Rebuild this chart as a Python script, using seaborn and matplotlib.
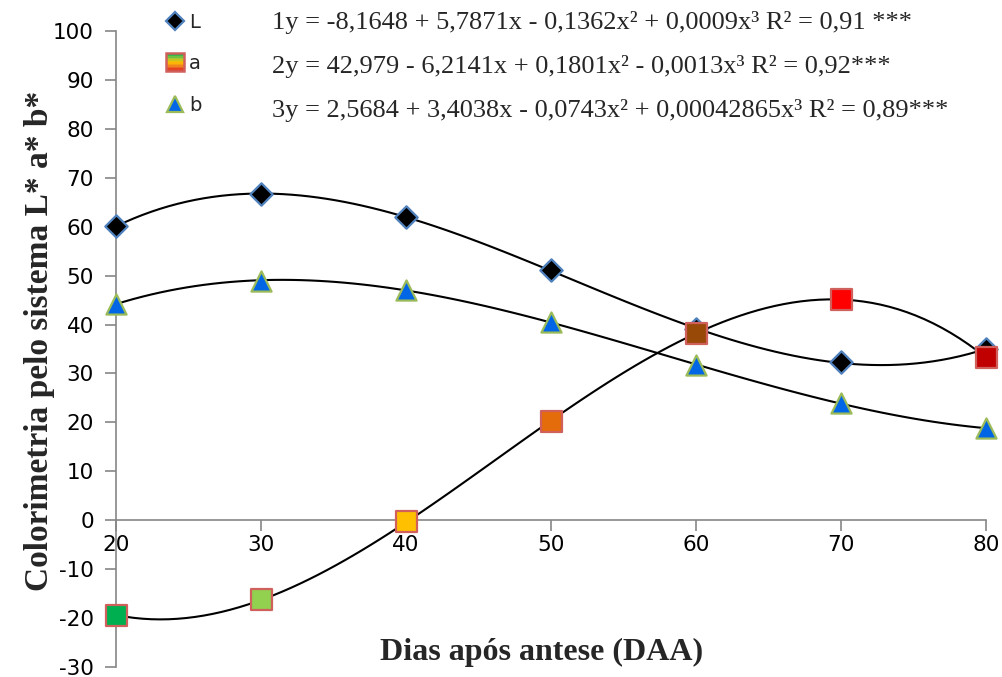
import numpy as np
import pandas as pd
import matplotlib
matplotlib.use("Agg")
import matplotlib.pyplot as plt
import seaborn as sns
from matplotlib.lines import Line2D
from matplotlib.patches import Rectangle
from matplotlib.legend_handler import HandlerBase
from matplotlib.colors import LinearSegmentedColormap

# ---- data ----
days = [20, 30, 40, 50, 60, 70, 80]
L_vals = [60.1, 66.7, 62.0, 51.1, 39.0, 32.3, 35.0]
a_vals = [-19.4, -16.3, -0.3, 20.2, 38.2, 45.2, 33.2]
b_vals = [44.2, 49.0, 47.0, 40.5, 31.7, 23.9, 18.8]
a_colors = ["#00B050", "#92D050", "#FFC000", "#E46C0A", "#984807", "#FF0000", "#C00000"]
series_labels = ["L", "a", "b"]
equations = [
    "1y = -8,1648 + 5,7871x - 0,1362x² + 0,0009x³ R² = 0,91 ***",
    "2y = 42,979 - 6,2141x + 0,1801x² - 0,0013x³ R² = 0,92***",
    "3y = 2,5684 + 3,4038x - 0,0743x² + 0,00042865x³ R² = 0,89***",
]
y_ticks = list(range(-30, 101, 10))
x_ticks = [20, 30, 40, 50, 60, 70, 80]
xlabel = "Dias após antese (DAA)"
ylabel = "Colorimetria pelo sistema L* a* b*"

df = pd.DataFrame({"DAA": days, "L": L_vals, "a": a_vals, "b": b_vals})

sns.set_style("white")
plt.rcParams["font.family"] = ["DejaVu Sans"]
plt.rcParams["axes.unicode_minus"] = False

fig = plt.figure(figsize=(10.03, 6.77), dpi=100)
ax = fig.add_axes([0.1157, 0.0148, 0.8674, 0.9394])

# trend lines (cubic regressions)
for col in ["L", "a", "b"]:
    sns.regplot(data=df, x="DAA", y=col, order=3, ci=None, scatter=False, ax=ax,
                line_kws=dict(color="black", lw=1.5, zorder=2))

# markers
sns.scatterplot(data=df, x="DAA", y="L", marker="D", s=130, color="black",
                edgecolor="#4F81BD", linewidth=1.6, ax=ax, zorder=3, clip_on=False)
sns.scatterplot(data=df, x="DAA", y="a", hue="DAA", palette=a_colors, marker="s", s=230,
                edgecolor="#D0605C", linewidth=1.6, ax=ax, zorder=3, legend=False, clip_on=False)
sns.scatterplot(data=df, x="DAA", y="b", marker="^", s=210, color="#0066E6",
                edgecolor="#9BBB59", linewidth=1.6, ax=ax, zorder=3, clip_on=False)

ax.set_xlim(20, 80)
ax.set_ylim(-30, 100)
ax.set_xticks(x_ticks)
ax.set_yticks(y_ticks)
ax.spines["top"].set_visible(False)
ax.spines["right"].set_visible(False)
ax.spines["bottom"].set_position(("data", 0))
for s in ["left", "bottom"]:
    ax.spines[s].set_color("#868686")
    ax.spines[s].set_linewidth(1.2)
ax.tick_params(axis="both", direction="out", length=8, width=1.2, color="#868686",
               left=True, bottom=True, labelsize=15.5, labelcolor="black")
ax.tick_params(axis="y", pad=8)
ax.tick_params(axis="x", pad=3)
ax.set_xlabel("")
ax.set_ylabel("")

fig.text(0.54, 1 - 652 / 677, xlabel, ha="center", va="center", fontsize=23,
         fontweight="bold", family="Liberation Serif")
fig.text(0.039, 0.497, ylabel, ha="center", va="center", rotation=90, fontsize=24,
         fontweight="bold", family="Liberation Serif")


# legend with gradient square for "a"
grad_cmap = LinearSegmentedColormap.from_list(
    "grad", ["#00B050", "#9BC83C", "#FFC000", "#F08020", "#E02020"])


class GradientHandler(HandlerBase):
    def create_artists(self, legend, orig_handle, xdescent, ydescent, width, height,
                       fontsize, trans):
        size = 13
        cx = width / 2 - xdescent
        cy = height / 2 - ydescent
        n = 12
        arts = []
        for i in range(n):
            r = Rectangle((cx - size / 2, cy + size / 2 - (i + 1) * size / n), size, size / n,
                          facecolor=grad_cmap(i / (n - 1)), edgecolor="none", transform=trans)
            arts.append(r)
        arts.append(Rectangle((cx - size / 2, cy - size / 2), size, size, facecolor="none",
                              edgecolor="#D0605C", lw=1.8, transform=trans))
        return arts


h_L = Line2D([], [], marker="D", ls="none", markersize=9, markerfacecolor="black",
             markeredgecolor="#4F81BD", markeredgewidth=1.6)
h_a = Line2D([], [], marker="s", ls="none")
h_b = Line2D([], [], marker="^", ls="none", markersize=12, markerfacecolor="#0066E6",
             markeredgecolor="#9BBB59", markeredgewidth=1.6)
leg = ax.legend([h_L, h_a, h_b], series_labels, handler_map={h_a: GradientHandler()},
                loc="upper left", bbox_to_anchor=(148 / 1003, 1 + 5 / 677),
                bbox_transform=fig.transFigure, frameon=False, fontsize=14,
                handlelength=1.0, handletextpad=0.2, labelspacing=1.17)

for i, eq in enumerate(equations):
    fig.text(272 / 1003, 1 - (22 + 44 * i) / 677, eq, ha="left", va="center",
             fontsize=19, family="Liberation Serif")

fig.savefig("out.png", dpi=100)
